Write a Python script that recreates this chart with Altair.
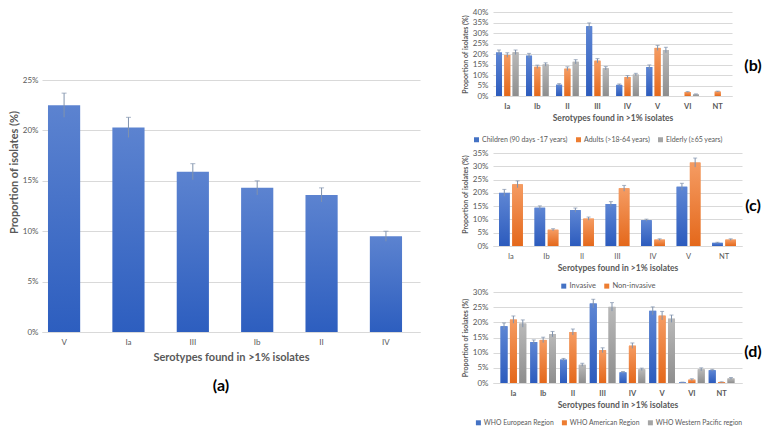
import altair as alt
import pandas as pd

FONT = "Lato"
TXT = "#595959"
GRID = "#d9d9d9"
ERRC = "#8193ad"

# ---------------- data ----------------
# Panel (a)
a_serotypes = ["V", "Ia", "III", "Ib", "II", "IV"]
a_values = [22.5, 20.3, 15.9, 14.3, 13.6, 9.5]
a_errors = [1.2, 1.0, 0.8, 0.7, 0.7, 0.5]

# Panel (b)
b_serotypes = ["Ia", "Ib", "II", "III", "IV", "V", "VI", "NT"]
b_series = ["Children (90 days -17 years)", "Adults (>18-64 years)", "Elderly (\u226565 years)"]
b_children = [20.7, 19.2, 5.4, 33.2, 5.3, 13.8, 0.0, 0.0]
b_adults = [19.5, 13.9, 13.0, 16.8, 9.0, 22.9, 1.9, 2.1]
b_elderly = [20.8, 15.0, 16.3, 13.2, 10.2, 21.9, 0.8, 0.0]
b_children_err = [1.2, 1.1, 0.5, 1.6, 0.4, 1.0, 0.0, 0.0]
b_adults_err = [1.1, 0.8, 0.9, 1.0, 0.7, 1.2, 0.2, 0.2]
b_elderly_err = [1.1, 0.8, 1.0, 0.8, 0.6, 1.3, 0.2, 0.0]

# Panel (c)
c_serotypes = ["Ia", "Ib", "II", "III", "IV", "V", "NT"]
c_series = ["Invasive", "Non-invasive"]
c_invasive = [20.0, 14.4, 13.5, 15.8, 9.7, 22.3, 1.2]
c_noninvasive = [23.2, 6.1, 10.3, 21.7, 2.4, 31.4, 2.4]
c_invasive_err = [1.3, 0.7, 0.8, 0.9, 0.4, 1.3, 0.2]
c_noninvasive_err = [1.3, 0.4, 0.6, 1.1, 0.3, 1.7, 0.3]

# Panel (d)
d_serotypes = ["Ia", "Ib", "II", "III", "IV", "V", "VI", "NT"]
d_series = ["WHO European Region", "WHO American Region", "WHO Western Pacific region"]
d_european = [18.7, 13.5, 7.7, 26.2, 3.5, 23.8, 0.2, 4.2]
d_american = [20.9, 14.2, 16.8, 10.8, 12.3, 22.2, 1.1, 0.3]
d_wpacific = [19.6, 16.1, 6.0, 25.1, 4.5, 21.2, 4.5, 1.5]
d_european_err = [1.1, 0.7, 0.4, 1.4, 0.3, 1.3, 0.1, 0.3]
d_american_err = [1.2, 0.9, 1.0, 0.8, 0.9, 1.4, 0.3, 0.1]
d_wpacific_err = [1.2, 0.9, 0.5, 1.4, 0.4, 1.2, 0.5, 0.3]

FLAT = ["#4472C4", "#ED7D31", "#A5A5A5"]
GRADS = [("#5e86d4", "#2c5bbd"), ("#f59c63", "#e4681b"), ("#b9b9b9", "#8e8e8e")]


def grad(top, bottom):
    return alt.LinearGradient(
        gradient="linear",
        stops=[alt.GradientStop(color=top, offset=0), alt.GradientStop(color=bottom, offset=1)],
        x1=0, x2=0, y1=0, y2=1,
    )


def y_axis(title_size, label_size, title_pad, label_pad, vals=None, count=None):
    kw = dict(
        labelExpr="datum.value + '%'", title="Proportion of isolates (%)",
        titleFontSize=title_size, titleFontWeight="bold", titleColor=TXT, titlePadding=title_pad,
        labelFontSize=label_size, labelColor=TXT, labelPadding=label_pad, labelOverlap=False,
        grid=True, gridColor=GRID, gridWidth=1, domain=False, ticks=False,
    )
    if vals is not None:
        kw["values"] = vals
    if count is not None:
        kw["tickCount"] = count
    return alt.Axis(**kw)


def x_axis(label_size, title_size, bold, label_pad, title_pad):
    return alt.Axis(
        title="Serotypes found in >1% isolates", labelAngle=0,
        labelFontSize=label_size, labelColor=TXT, labelFontWeight="bold" if bold else "normal",
        labelPadding=label_pad, labelOverlap=False, titleFontSize=title_size,
        titleFontWeight="bold", titleColor=TXT,
        titlePadding=title_pad, domainColor=GRID, ticks=False, grid=False,
    )


def label_layer(text, x, y):
    return alt.Chart(pd.DataFrame({"t": [text]})).mark_text(
        fontSize=16, fontWeight="bold", color="#000000", align="center", baseline="middle"
    ).encode(x=alt.value(x), y=alt.value(y), text="t:N")


# ---------------- panel (a) ----------------
df_a = pd.DataFrame({"serotype": a_serotypes, "value": a_values, "err": a_errors})
df_a["lo"] = df_a["value"] - df_a["err"]
df_a["hi"] = df_a["value"] + df_a["err"]

A_W, A_H = 378, 320
xa = alt.X("serotype:N", sort=a_serotypes,
           scale=alt.Scale(domain=a_serotypes, paddingInner=0.5, paddingOuter=0.186, align=0.25),
           axis=x_axis(8, 11, False, 6, 5))
ya = alt.Y("value:Q", scale=alt.Scale(domain=[0, 31.75], nice=False, zero=True),
           axis=y_axis(11, 8, 3, 4, vals=[0, 5, 10, 15, 20, 25]))
base_a = alt.Chart(df_a)
bars_a = base_a.mark_bar(color=grad("#5c83d0", "#2d5ebf")).encode(x=xa, y=ya)
rule_a = base_a.mark_rule(color=ERRC, strokeWidth=1).encode(x=xa, y="lo:Q", y2="hi:Q")
cap_a = base_a.mark_tick(color=ERRC, orient="horizontal", size=5, thickness=1).encode(x=xa, y="hi:Q")
panel_a = alt.layer(bars_a, rule_a, cap_a, label_layer("(a)", 179, 374)).properties(width=A_W, height=A_H)


# ---------------- grouped panels ----------------
def grouped(cats, series, vals, errs, w, h, ymax, ycount, pi, po, pi2, bold,
            lx, ly, lfont, tag, tx, ty):
    rows = []
    for s, v_list, e_list in zip(series, vals, errs):
        for c, v, e in zip(cats, v_list, e_list):
            rows.append({"serotype": c, "series": s, "value": v, "err": e,
                         "lo": v - e, "hi": v + e})
    df = pd.DataFrame(rows)
    x = alt.X("serotype:N", sort=cats,
              scale=alt.Scale(domain=cats, paddingInner=pi, paddingOuter=po),
              axis=x_axis(7.5, 8.5, bold, 6, 4))
    x_plain = alt.X("serotype:N", sort=cats)
    xo = alt.XOffset("series:N", sort=series,
                     scale=alt.Scale(domain=series, paddingInner=pi2, paddingOuter=0))
    xo_plain = alt.XOffset("series:N", sort=series)
    y = alt.Y("value:Q", stack=None,
              scale=alt.Scale(domain=[0, ymax], nice=False, zero=True),
              axis=y_axis(7, 8, 4, 5, count=ycount))
    base = alt.Chart(df)
    flat = base.mark_bar().encode(
        x=x, xOffset=xo, y=y,
        color=alt.Color("series:N", sort=series,
                        scale=alt.Scale(domain=series, range=FLAT[:len(series)]),
                        legend=alt.Legend(
                            title=None, orient="none", legendX=lx, legendY=ly,
                            direction="horizontal", symbolType="square", symbolSize=25,
                            symbolStrokeWidth=0, labelFontSize=lfont, labelColor=TXT,
                            labelLimit=300, columnPadding=7, labelOffset=2)),
    )
    layers = [flat]
    for i, s in enumerate(series):
        layers.append(
            base.transform_filter(alt.datum.series == s)
            .mark_bar(color=grad(*GRADS[i]))
            .encode(x=x_plain, xOffset=xo_plain, y=alt.Y("value:Q", stack=None))
        )
    eb = base.transform_filter(alt.datum.value > 0)
    layers.append(eb.mark_rule(color=ERRC, strokeWidth=1).encode(
        x=x_plain, xOffset=xo_plain, y="lo:Q", y2="hi:Q"))
    layers.append(eb.mark_tick(color=ERRC, orient="horizontal", size=4, thickness=1)
                  .encode(x=x_plain, xOffset=xo_plain, y="hi:Q"))
    layers.append(label_layer(tag, tx, ty))
    return alt.layer(*layers).properties(width=w, height=h)


panel_b = grouped(b_serotypes, b_series,
                  [b_children, b_adults, b_elderly],
                  [b_children_err, b_adults_err, b_elderly_err],
                  239, 84, 40, 8,
                  0.25, 0.1, 0.28, True, -20, 124, 7, "(b)", 260, 54)

panel_c = grouped(c_serotypes, c_series,
                  [c_invasive, c_noninvasive],
                  [c_invasive_err, c_noninvasive_err],
                  249, 104, 39.14, 8,
                  0.33, 0.17, 0.2, False, 67, 140, 7.5, "(c)", 260, 64)

panel_d = grouped(d_serotypes, d_series,
                  [d_european, d_american, d_wpacific],
                  [d_european_err, d_american_err, d_wpacific_err],
                  249, 91, 30, 6,
                  0.136, 0.254, 0.26, True, -18, 127, 6.8, "(d)", 260, 60)

right = alt.vconcat(panel_b, panel_c, panel_d, spacing=46, bounds="flush").resolve_scale(
    color="independent", xOffset="independent"
).resolve_legend(color="independent")

chart = (
    alt.hconcat(panel_a, right, spacing=73, bounds="flush")
    .properties(padding=0)
    .configure(font=FONT)
    .configure_view(strokeWidth=0)
    .configure_axis(labelOverlap=False)
)

chart.save("out.html", embed_options={"renderer": "svg", "actions": False})
